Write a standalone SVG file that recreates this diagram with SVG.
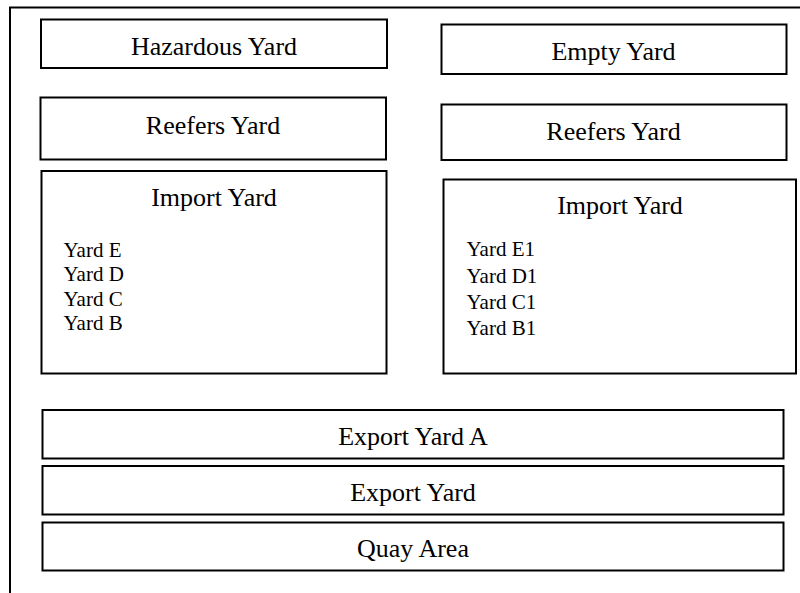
<svg xmlns="http://www.w3.org/2000/svg" width="800" height="593" viewBox="0 0 800 593">
<style>
.box{fill:#fff;stroke:#000;stroke-width:2}
.t{font-family:"Liberation Serif","Times New Roman",serif;fill:#000}
.big{font-size:26px;text-anchor:middle}
.sm{font-size:21px}
</style>
<rect width="800" height="593" fill="#fff"/>
<g id="frame">
<path d="M10 593 V7.5 H800" fill="none" stroke="#000" stroke-width="2"/>
</g>
<g id="hazardous"><rect class="box" x="41" y="19.5" width="346" height="48.5"/><text class="t big" x="214" y="55">Hazardous Yard</text></g>
<g id="reefers-left"><rect class="box" x="40.5" y="97.5" width="345.5" height="62"/><text class="t big" x="213" y="133.5">Reefers Yard</text></g>
<g id="import-left"><rect class="box" x="41.5" y="171" width="345" height="202.5"/><text class="t big" x="214" y="206">Import Yard</text>
<text class="t sm" x="63.5" y="256.5">Yard E</text><text class="t sm" x="63.5" y="281">Yard D</text><text class="t sm" x="63.5" y="305.5">Yard C</text><text class="t sm" x="63.5" y="329.5">Yard B</text></g>
<g id="empty"><rect class="box" x="441.5" y="24.5" width="345" height="49.5"/><text class="t big" x="613.5" y="60">Empty Yard</text></g>
<g id="reefers-right"><rect class="box" x="441.5" y="104.5" width="345" height="55.5"/><text class="t big" x="613.5" y="140">Reefers Yard</text></g>
<g id="import-right"><rect class="box" x="443.5" y="179.5" width="352.5" height="194"/><text class="t big" x="620" y="214">Import Yard</text>
<text class="t sm" x="466.5" y="256">Yard E1</text><text class="t sm" x="466.5" y="282.5">Yard D1</text><text class="t sm" x="466.5" y="308.5">Yard C1</text><text class="t sm" x="466.5" y="335">Yard B1</text></g>
<g id="export-a"><rect class="box" x="42.5" y="410" width="741" height="48.5"/><text class="t big" x="413" y="445">Export Yard A</text></g>
<g id="export"><rect class="box" x="42.5" y="466" width="741" height="48.5"/><text class="t big" x="413" y="500.5">Export Yard</text></g>
<g id="quay"><rect class="box" x="42.5" y="522.5" width="741" height="48"/><text class="t big" x="413" y="556.5">Quay Area</text></g>
<g id="connectors"/>
</svg>
